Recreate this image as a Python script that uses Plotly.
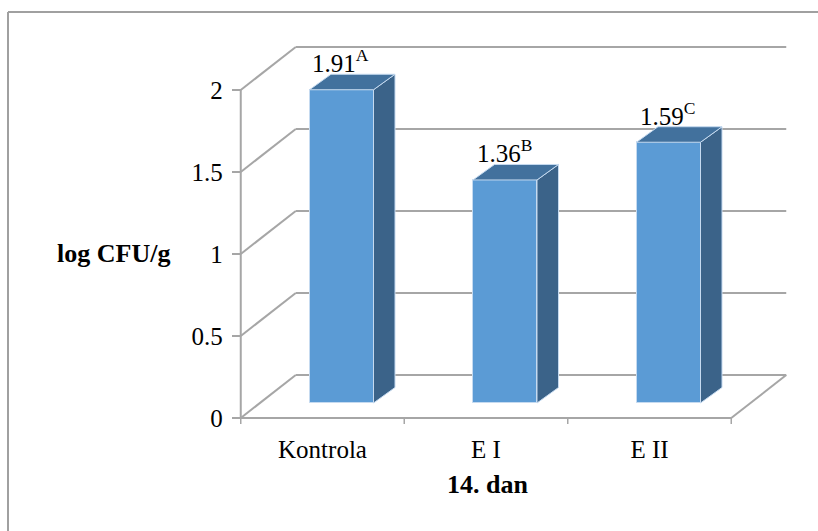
import plotly.graph_objects as go

# ---------------- data ----------------
categories = ["Kontrola", "E I", "E II"]
values = [1.91, 1.36, 1.59]
letters = ["A", "B", "C"]
y_ticks = [0, 0.5, 1, 1.5, 2]
y_tick_labels = ["0", "0.5", "1", "1.5", "2"]
x_title = "14. dan"
y_title = "log CFU/g"

# ---------------- geometry / style ----------------
W, H = 818, 531
PX_X0, PX_PER_CAT = 322.5, 163.5     # pixel of first category centre, px per category
PX_Y0, PX_PER_UNIT = 418.0, 164.0    # pixel of y=0 on front axis, px per unit
FONT = "Liberation Serif"
GRID = "#A6A6A6"
FRONT = "#5B9BD5"
SIDE = "#3B6389"
TOP = "#42719D"

def cx(px):  # pixel distance -> x units
    return px / PX_PER_CAT

def cy(px):  # pixel distance -> y units
    return px / PX_PER_UNIT

x_range = [(0 - PX_X0) / PX_PER_CAT, (W - PX_X0) / PX_PER_CAT]
y_range = [(PX_Y0 - H) / PX_PER_UNIT, PX_Y0 / PX_PER_UNIT]

wall_dx, wall_dy = cx(55), cy(43)          # depth of the 3D box
bar_fx, bar_fy = cx(19), cy(15)            # front face position of bars
bar_ddx, bar_ddy = cx(21.5), cy(15.5)      # bar depth
bar_w = cx(64)
x_left = -0.5
x_right = len(categories) - 0.5

fig = go.Figure()

bar_x = [i + bar_fx for i in range(len(categories))]
fig.add_trace(go.Bar(
    x=bar_x, y=values, base=bar_fy, width=bar_w,
    marker=dict(color=FRONT, line=dict(color="#C5DAF0", width=1)),
    hoverinfo="skip", showlegend=False,
))

shapes = []
def line(x0, y0, x1, y1, color=GRID, width=2, layer="below", xref="x", yref="y"):
    shapes.append(dict(type="line", x0=x0, y0=y0, x1=x1, y1=y1, xref=xref, yref=yref,
                       line=dict(color=color, width=width), layer=layer))

# back wall gridlines + left side-wall diagonals
for v in y_ticks:
    line(x_left, v, x_left + wall_dx, v + wall_dy)
    line(x_left + wall_dx, v + wall_dy, x_right + wall_dx, v + wall_dy)
# floor front edge and right diagonal
line(x_left, 0, x_right, 0)
line(x_right, 0, x_right + wall_dx, wall_dy)
# front vertical axis line
line(x_left, 0, x_left, y_ticks[-1])
# x ticks at category boundaries
for k in range(len(categories) + 1):
    xb = x_left + k
    line(xb, 0, xb, -cy(6), width=1.5)

# bar side and top faces
for xc, v in zip(bar_x, values):
    xl, xr = xc - bar_w / 2, xc + bar_w / 2
    yb, yt = bar_fy, bar_fy + v
    side = (f"M {xr},{yb} L {xr},{yt} L {xr + bar_ddx},{yt + bar_ddy} "
            f"L {xr + bar_ddx},{yb + bar_ddy} Z")
    top = (f"M {xl},{yt} L {xr},{yt} L {xr + bar_ddx},{yt + bar_ddy} "
           f"L {xl + bar_ddx},{yt + bar_ddy} Z")
    shapes.append(dict(type="path", path=side, xref="x", yref="y", fillcolor=SIDE,
                       line=dict(color="#C5DAF0", width=1), layer="above"))
    shapes.append(dict(type="path", path=top, xref="x", yref="y", fillcolor=TOP,
                       line=dict(color="#C5DAF0", width=1), layer="above"))

# chart border (top and left visible)
shapes.append(dict(type="line", xref="paper", yref="paper", x0=8 / W, y0=1 - 12 / H,
                   x1=1, y1=1 - 12 / H, line=dict(color="#A0A0A0", width=2)))
shapes.append(dict(type="line", xref="paper", yref="paper", x0=8 / W, y0=1 - 12 / H,
                   x1=8 / W, y1=0, line=dict(color="#A0A0A0", width=2)))

annotations = []
for xc, v, L in zip(bar_x, values, letters):
    annotations.append(dict(x=xc - cx(1), y=bar_fy + v + bar_ddy, xref="x", yref="y",
                            text=f"{v:.2f}<sup>{L}</sup>", showarrow=False,
                            xanchor="center", yanchor="bottom", yshift=-5,
                            font=dict(family=FONT, size=25, color="#000")))
annotations.append(dict(x=113 / W, y=1 - 253 / H, xref="paper", yref="paper",
                        xanchor="center", yanchor="middle",
                        text=f"<b>{y_title}</b>", showarrow=False,
                        font=dict(family=FONT, size=26, color="#000")))
annotations.append(dict(x=487 / W, y=1 - 484 / H, xref="paper", yref="paper",
                        xanchor="center", yanchor="middle",
                        text=f"<b>{x_title}</b>", showarrow=False,
                        font=dict(family=FONT, size=26, color="#000")))

fig.update_layout(
    width=W, height=H, margin=dict(l=0, r=0, t=0, b=0),
    paper_bgcolor="white", plot_bgcolor="white",
    font=dict(family=FONT, color="#000"),
    shapes=shapes, annotations=annotations, bargap=0,
    xaxis=dict(range=x_range, anchor="free", position=1 - PX_Y0 / H,
               tickmode="array", tickvals=list(range(len(categories))), ticktext=categories,
               ticks="", showline=False, showgrid=False, zeroline=False,
               ticklabelstandoff=14,
               tickfont=dict(family=FONT, size=25, color="#000")),
    yaxis=dict(range=y_range, anchor="free", position=(PX_X0 + x_left * PX_PER_CAT) / W,
               tickmode="array", tickvals=y_ticks, ticktext=y_tick_labels,
               ticks="outside", ticklen=9, tickwidth=2, tickcolor=GRID,
               showline=False, showgrid=False, zeroline=False,
               ticklabelstandoff=4,
               tickfont=dict(family=FONT, size=25, color="#000")),
)

fig.write_html("out.html")
